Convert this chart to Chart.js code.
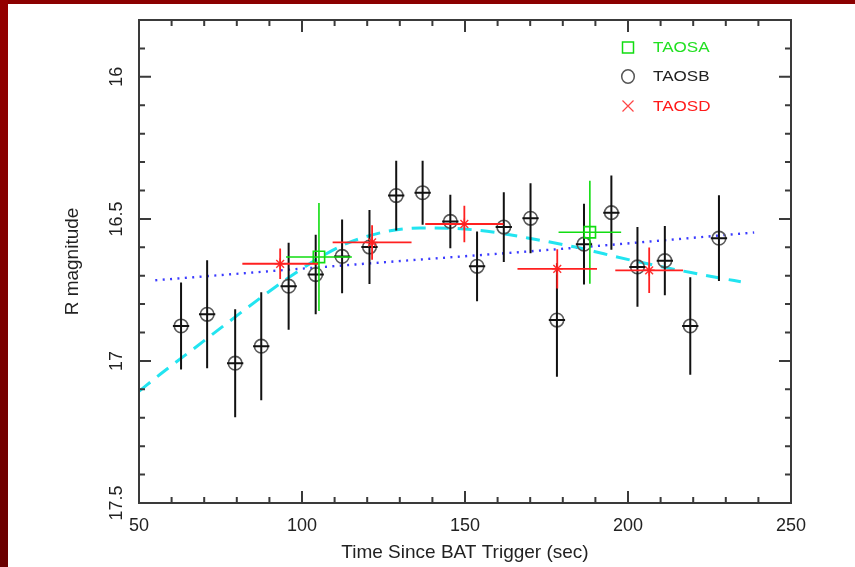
<!DOCTYPE html>
<html>
<head>
<meta charset="utf-8">
<script src="https://cdn.jsdelivr.net/npm/chart.js@4/dist/chart.umd.min.js"></script>
<style>
  html, body { margin: 0; padding: 0; background: #ffffff; }
  canvas { display: block; }
</style>
</head>
<body>
<canvas id="c" width="855" height="567"></canvas>
<script>
// ---------------- data ----------------
const xTitle = "Time Since BAT Trigger (sec)";
const yTitle = "R magnitude";
const xTickValues = [50, 100, 150, 200, 250];
const xTickLabels = ["50", "100", "150", "200", "250"];
const xMinorTicks = [60, 70, 80, 90, 110, 120, 130, 140, 160, 170, 180, 190, 210, 220, 230, 240];
const yTickValues = [16, 16.5, 17, 17.5];
const yTickLabels = ["16", "16.5", "17", "17.5"];
const yMinorTicks = [15.9, 16.1, 16.2, 16.3, 16.4, 16.6, 16.7, 16.8, 16.9, 17.1, 17.2, 17.3, 17.4];

const seriesNames = ["TAOSA", "TAOSB", "TAOSD"];

// TAOSA (green squares)
const taosaX    = [105.2, 188.3];
const taosaY    = [16.634, 16.547];
const taosaXErr = [10.1, 9.6];
const taosaYErr = [0.190, 0.181];

// TAOSB (black circles)
const taosbX    = [62.9, 70.9, 79.5, 87.5, 95.9, 104.2, 112.3, 120.7, 128.9, 137.0, 145.5,
                   153.7, 161.9, 170.1, 178.2, 186.5, 194.9, 202.9, 211.3, 219.1, 227.9];
const taosbY    = [16.877, 16.836, 17.008, 16.948, 16.737, 16.696, 16.632, 16.599, 16.418, 16.408, 16.509,
                   16.667, 16.529, 16.498, 16.856, 16.589, 16.478, 16.669, 16.647, 16.877, 16.568];
const taosbXErr = [2.5, 2.5, 2.5, 2.5, 2.5, 2.5, 2.5, 2.5, 2.5, 2.5, 2.5,
                   2.5, 2.5, 2.5, 2.5, 2.5, 2.5, 2.5, 2.5, 2.5, 2.5];
const taosbYErr = [0.153, 0.190, 0.190, 0.190, 0.153, 0.140, 0.130, 0.130, 0.123, 0.113, 0.094,
                   0.123, 0.123, 0.123, 0.200, 0.142, 0.131, 0.140, 0.122, 0.172, 0.151];

// TAOSD (red stars)
const taosdX    = [93.3, 121.5, 149.8, 178.3, 206.5];
const taosdY    = [16.658, 16.583, 16.518, 16.676, 16.681];
const taosdXErr = [11.6, 12.1, 12.0, 12.2, 10.4];
const taosdYErr = [0.054, 0.061, 0.064, 0.069, 0.080];

// model curve (cyan dashed)
const modelX = [50.1, 56.5, 67.7, 76.9, 88.2, 96.4, 104.6, 112.8, 121.0, 127.1, 136.3,
                145.5, 154.8, 161.8, 169.2, 184.6, 192.6, 200.8, 211.0, 219.3, 228.5, 234.6];
const modelY = [17.106, 17.047, 16.949, 16.868, 16.770, 16.703, 16.642, 16.591, 16.558, 16.542, 16.532,
                16.533, 16.541, 16.552, 16.567, 16.601, 16.623, 16.645, 16.670, 16.689, 16.709, 16.721];

// power-law fit (blue dotted)
const fitX = [55.0, 122.5, 182.4, 238.7];
const fitY = [16.716, 16.655, 16.603, 16.548];

// ---------------- helpers ----------------
const pts = (xs, ys) => xs.map((x, i) => ({ x: x, y: ys[i] }));
const FONT = "'Liberation Sans', Arial, Helvetica, sans-serif";
const labelFor = (vals, labels) => v => {
  const i = vals.findIndex(t => Math.abs(t - v) < 1e-9);
  return i >= 0 ? labels[i] : '';
};

const bgPlugin = {
  id: 'bg',
  beforeDraw(chart) {
    const c = chart.ctx, W = chart.width, H = chart.height;
    c.save();
    c.fillStyle = '#ffffff';
    c.fillRect(0, 0, W, H);
    c.fillStyle = '#8b0000';
    c.fillRect(0, 0, W, 4);
    const g = c.createLinearGradient(0, 0, 0, H);
    g.addColorStop(0, '#950000');
    g.addColorStop(1, '#6a0000');
    c.fillStyle = g;
    c.fillRect(0, 0, 8, H);
    c.restore();
  }
};

const errPlugin = {
  id: 'errbars',
  afterDatasetDraw(chart, args) {
    const ds = chart.data.datasets[args.index];
    if (!ds.errX) return;
    const xs = chart.scales.x, ys = chart.scales.y, c = chart.ctx, a = chart.chartArea;
    c.save();
    c.beginPath();
    c.rect(a.left, a.top, a.right - a.left, a.bottom - a.top);
    c.clip();
    c.strokeStyle = ds.errColor;
    c.lineWidth = ds.errWidth;
    c.lineCap = 'butt';
    ds.data.forEach((p, i) => {
      const px = xs.getPixelForValue(p.x), py = ys.getPixelForValue(p.y);
      const x0 = xs.getPixelForValue(p.x - ds.errX[i]), x1 = xs.getPixelForValue(p.x + ds.errX[i]);
      const y0 = ys.getPixelForValue(p.y - ds.errY[i]), y1 = ys.getPixelForValue(p.y + ds.errY[i]);
      c.beginPath();
      c.moveTo(x0, py); c.lineTo(x1, py);
      c.moveTo(px, y0); c.lineTo(px, y1);
      c.stroke();
    });
    c.restore();
  }
};

const framePlugin = {
  id: 'frame',
  afterDatasetsDraw(chart) {
    const c = chart.ctx, a = chart.chartArea, xs = chart.scales.x, ys = chart.scales.y;
    c.save();
    c.strokeStyle = '#3a3a3a';
    c.lineWidth = 2;
    c.strokeRect(a.left, a.top, a.right - a.left, a.bottom - a.top);
    const MAJ = 12, MIN = 6;
    c.beginPath();
    const xt = (v, len) => {
      const p = xs.getPixelForValue(v);
      c.moveTo(p, a.bottom); c.lineTo(p, a.bottom - len);
      c.moveTo(p, a.top); c.lineTo(p, a.top + len);
    };
    const yt = (v, len) => {
      const p = ys.getPixelForValue(v);
      c.moveTo(a.left, p); c.lineTo(a.left + len, p);
      c.moveTo(a.right, p); c.lineTo(a.right - len, p);
    };
    xTickValues.forEach(v => xt(v, MAJ));
    xMinorTicks.forEach(v => xt(v, MIN));
    yTickValues.forEach(v => yt(v, MAJ));
    yMinorTicks.forEach(v => yt(v, MIN));
    c.stroke();
    c.restore();
  }
};

const legendPlugin = {
  id: 'customLegend',
  afterDraw(chart) {
    const c = chart.ctx, a = chart.chartArea;
    const sx = a.right - 163, tx = a.right - 138;
    const rows = [a.top + 27.5, a.top + 56.5, a.top + 86];
    const items = [
      { name: seriesNames[0], color: '#11dd11', text: '#22e022', sym: 'square' },
      { name: seriesNames[1], color: '#555555', text: '#222222', sym: 'circle' },
      { name: seriesNames[2], color: '#ff4444', text: '#ff1a1a', sym: 'x' }
    ];
    c.save();
    items.forEach((it, i) => {
      const y = rows[i];
      c.strokeStyle = it.color;
      c.lineWidth = 1.5;
      c.beginPath();
      if (it.sym === 'square') {
        c.rect(sx - 5.5, y - 5.5, 11, 11);
      } else if (it.sym === 'circle') {
        c.ellipse(sx, y, 6.3, 6.8, 0, 0, Math.PI * 2);
      } else {
        c.lineWidth = 1.2;
        c.moveTo(sx - 5.5, y - 5.5); c.lineTo(sx + 5.5, y + 5.5);
        c.moveTo(sx + 5.5, y - 5.5); c.lineTo(sx - 5.5, y + 5.5);
      }
      c.stroke();
      c.save();
      c.fillStyle = it.text;
      c.font = "15.5px " + FONT;
      c.textAlign = 'left';
      c.textBaseline = 'middle';
      c.translate(tx, y + 0.5);
      c.scale(1.1, 1);
      c.fillText(it.name, 0, 0);
      c.restore();
    });
    c.restore();
  }
};

// ---------------- chart ----------------
const chart = new Chart(document.getElementById('c').getContext('2d'), {
  type: 'line',
  data: {
    datasets: [
      {
        label: seriesNames[2],
        data: pts(taosdX, taosdY),
        errX: taosdXErr, errY: taosdYErr, errColor: '#ff2020', errWidth: 1.8,
        showLine: false,
        pointStyle: 'star', pointRadius: 5.5,
        pointBorderColor: '#ff3030', pointBorderWidth: 1.4,
        pointBackgroundColor: 'rgba(0,0,0,0)',
        order: 0
      },
      {
        label: seriesNames[0],
        data: pts(taosaX, taosaY),
        errX: taosaXErr, errY: taosaYErr, errColor: '#11dd11', errWidth: 1.6,
        showLine: false,
        pointStyle: 'rect', pointRadius: 8,
        pointBorderColor: '#11dd11', pointBorderWidth: 1.6,
        pointBackgroundColor: 'rgba(0,0,0,0)',
        order: 1
      },
      {
        label: seriesNames[1],
        data: pts(taosbX, taosbY),
        errX: taosbXErr, errY: taosbYErr, errColor: '#111111', errWidth: 2,
        showLine: false,
        pointStyle: 'circle', pointRadius: 6.8,
        pointBorderColor: '#5a5a5a', pointBorderWidth: 1.6,
        pointBackgroundColor: 'rgba(0,0,0,0)',
        order: 2
      },
      {
        label: 'model',
        data: pts(modelX, modelY),
        borderColor: '#22e4f0', borderWidth: 3,
        borderDash: [14, 9],
        cubicInterpolationMode: 'monotone',
        pointRadius: 0, fill: false,
        order: 3
      },
      {
        label: 'fit',
        data: pts(fitX, fitY),
        borderColor: '#3a3aff', borderWidth: 2.4,
        borderDash: [2, 5.4],
        cubicInterpolationMode: 'monotone',
        pointRadius: 0, fill: false,
        order: 4
      }
    ]
  },
  options: {
    responsive: false,
    animation: false,
    events: [],
    layout: { padding: { left: 0, top: 20, right: 64, bottom: 0 } },
    scales: {
      x: {
        type: 'linear', min: 50, max: 250,
        afterBuildTicks: s => { s.ticks = xTickValues.map(v => ({ value: v })); },
        afterFit: s => { s.height = 64; },
        grid: { display: false, drawTicks: false },
        border: { display: false },
        ticks: { font: { size: 18, family: FONT }, color: '#222222', padding: 12, maxRotation: 0, autoSkip: false,
                 callback: labelFor(xTickValues, xTickLabels) },
        title: { display: true, text: xTitle, font: { size: 19, family: FONT }, color: '#222222', padding: { top: 0, bottom: 3 } }
      },
      y: {
        type: 'linear', reverse: true, min: 15.8, max: 17.5,
        afterBuildTicks: s => { s.ticks = yTickValues.map(v => ({ value: v })); },
        afterFit: s => { s.width = 139; },
        grid: { display: false, drawTicks: false },
        border: { display: false },
        ticks: { font: { size: 18, family: FONT }, color: '#222222', padding: 4, minRotation: 90, maxRotation: 90, crossAlign: 'center', autoSkip: false,
                 callback: labelFor(yTickValues, yTickLabels) },
        title: { display: true, text: yTitle, font: { size: 19, family: FONT }, color: '#222222', padding: { top: 61, bottom: 0 } }
      }
    },
    plugins: { legend: { display: false }, tooltip: { enabled: false } }
  },
  plugins: [bgPlugin, errPlugin, framePlugin, legendPlugin]
});
</script>
</body>
</html>
